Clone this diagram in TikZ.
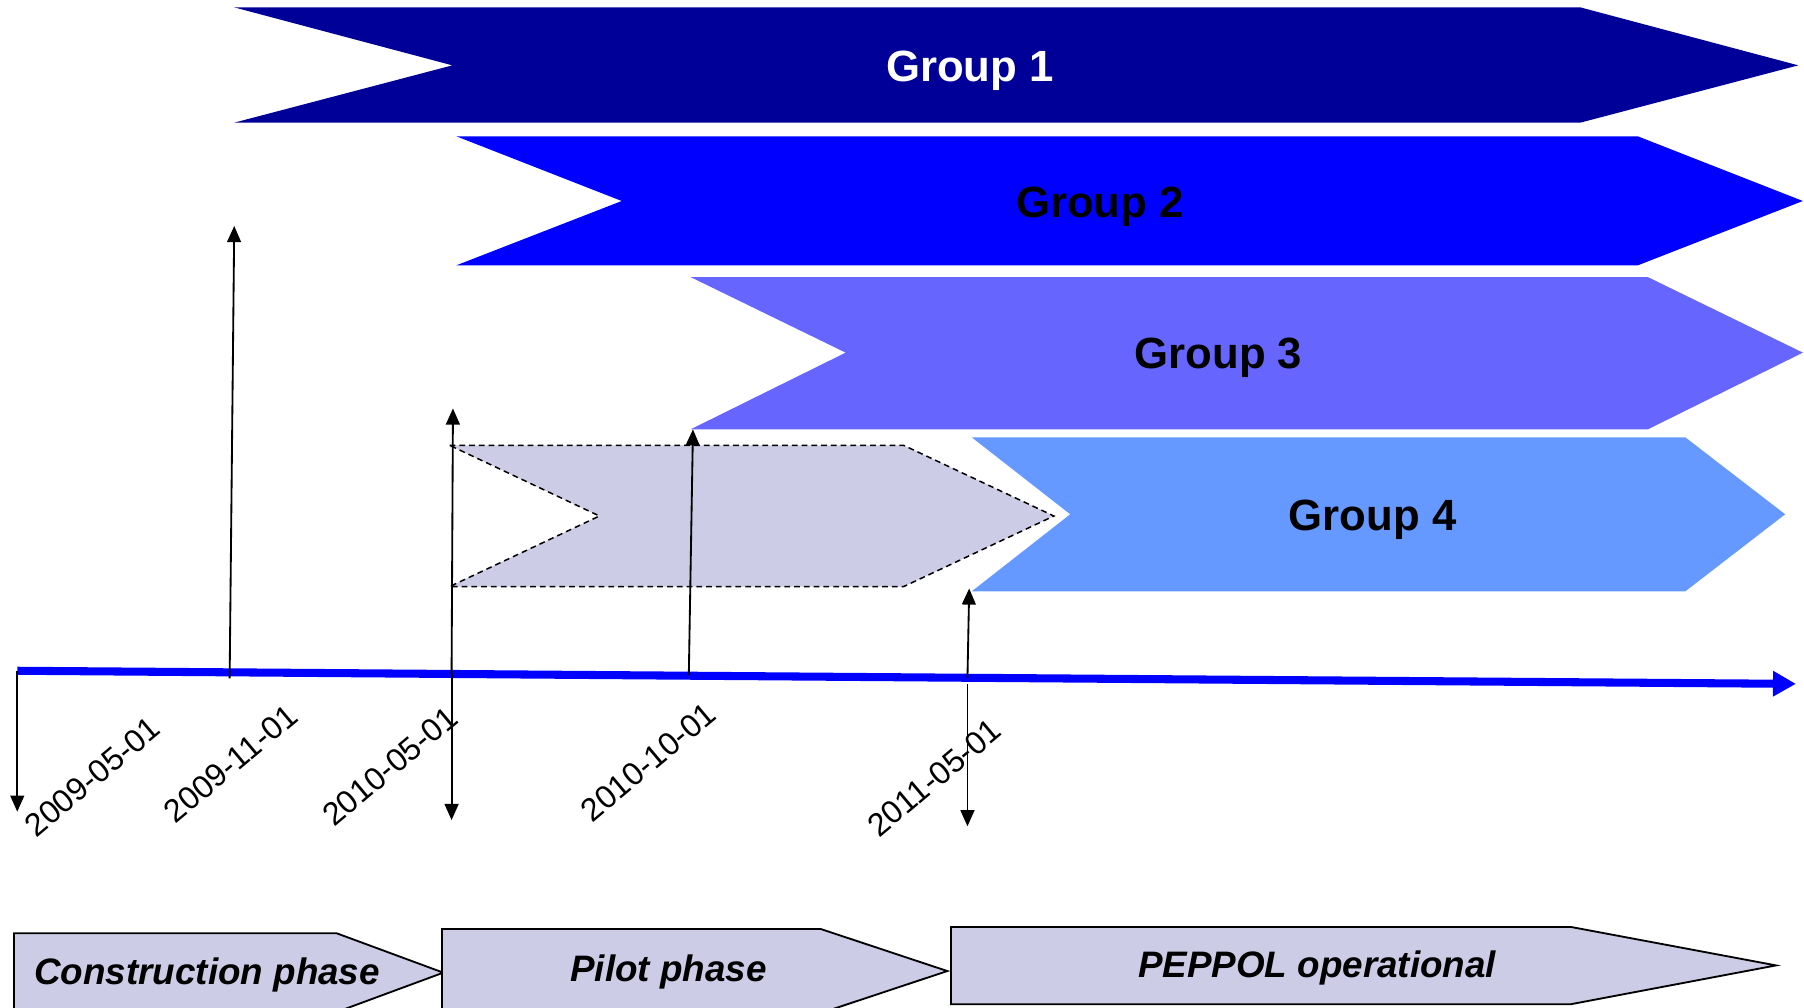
\documentclass[tikz,border=0pt]{standalone}
\usepackage{fontspec}
\setmainfont{Liberation Sans}
\usetikzlibrary{arrows.meta}
\definecolor{gone}{HTML}{000099}
\definecolor{gtwo}{HTML}{0000FF}
\definecolor{gthree}{HTML}{6666FF}
\definecolor{gfour}{HTML}{6699FF}
\definecolor{lav}{RGB}{204,204,230}
\begin{document}
\begin{tikzpicture}[x=1pt,y=-1pt,
  grouplabel/.style={font=\fontsize{38}{40}\selectfont\bfseries, anchor=base, inner sep=0pt},
  datelabel/.style={font=\fontsize{28}{30}\selectfont, rotate=40, anchor=center, inner sep=0pt},
  phasebox/.style={draw=black, line width=1.6pt, fill=lav, line join=miter},
  phaselabel/.style={font=\fontsize{32}{34}\selectfont\bfseries\itshape, anchor=base, inner sep=0pt},
  tick/.style={line width=1.6pt, draw=black, -{Triangle[length=14pt,width=12pt]}},
  timeline/.style={line width=7pt, draw=gtwo, -{Triangle[length=20pt,width=21pt]}}
]
\useasboundingbox[fill=white] (0,0) rectangle (1568,876);

% group bands
\fill[gone]   (203.6,6.4) -- (1373.6,6.4) -- (1563,56.8) -- (1373.6,106.6) -- (203.6,106.6) -- (393.2,56.8) -- cycle;
\fill[gtwo]   (396.7,118.5) -- (1423.6,118.5) -- (1567,174.7) -- (1423.6,230.6) -- (396.7,230.6) -- (540.4,174.7) -- cycle;
\fill[gthree] (600.2,240.8) -- (1432.2,240.8) -- (1567,306.5) -- (1432.2,373.2) -- (600.2,373.2) -- (735,306.5) -- cycle;
\fill[gfour]  (844.6,380.1) -- (1464.8,380.1) -- (1551.6,447) -- (1464.8,514) -- (844.6,514) -- (930.2,447) -- cycle;
\filldraw[fill=lav, draw=black, line width=1.3pt, dash pattern=on 5pt off 3.5pt]
  (390.7,387) -- (785.3,387) -- (916,448.5) -- (785.3,509.9) -- (390.7,509.9) -- (521,448.5) -- cycle;

\node[grouplabel, text=white] (g1) at (843,70.5) {Group 1};
\node[grouplabel] (g2) at (956,189) {Group 2};
\node[grouplabel] (g3) at (1059,320) {Group 3};
\node[grouplabel] (g4) at (1193,461) {Group 4};

% timeline
\coordinate (t0) at (15,583);
\coordinate (t1) at (1561,594.4);
\draw[timeline] (t0) -- (t1);

% tick arrows
\coordinate (a0s) at (15,583);   \coordinate (a0e) at (15,705.5);
\coordinate (a1s) at (199.6,589.6); \coordinate (a1e) at (203.6,196.4);
\coordinate (a2s) at (392.5,586); \coordinate (a2e) at (393.7,355);
\coordinate (a2d) at (392.5,712.8);
\coordinate (a3s) at (598.7,586.7); \coordinate (a3e) at (602.3,373.2);
\coordinate (a4s) at (840.9,589); \coordinate (a4e) at (842.4,511.5);
\coordinate (a4b) at (840.9,594.4); \coordinate (a4d) at (840.9,718.2);
\draw[tick] (a0s) -- (a0e);
\draw[tick] (a1s) -- (a1e);
\draw[tick] (a2s) -- (a2e);
\draw[tick] (a2s) -- (a2d);
\draw[tick] (a3s) -- (a3e);
\draw[tick] (a4s) -- (a4e);
\draw[tick] (a4b) -- (a4d);

% date labels
\node[datelabel] (d1) at (80.4,675) {2009-05-01};
\node[datelabel] (d2) at (200.5,663.5) {2009-11-01};
\node[datelabel] (d3) at (339,666) {2010-05-01};
\node[datelabel] (d4) at (563.5,662.3) {2010-10-01};
\node[datelabel] (d5) at (812,676) {2011-05-01};

% phases
\draw[phasebox] (12.2,811.2) -- (292.7,811.2) -- (385.3,845.4) -- (292.7,879.6) -- (12.2,879.6) -- cycle;
\draw[phasebox] (384.2,807.5) -- (713.5,807.5) -- (823.4,844) -- (713.5,880.5) -- (384.2,880.5) -- cycle;
\draw[phasebox] (826.6,805.7) -- (1365.5,805.7) -- (1543.7,839.1) -- (1365.5,872.8) -- (826.6,872.8) -- cycle;
\node[phaselabel] (p1) at (180,856) {Construction phase};
\node[phaselabel] (p2) at (581,853.3) {Pilot phase};
\node[phaselabel] (p3) at (1144.7,850) {PEPPOL operational};
\end{tikzpicture}
\end{document}
